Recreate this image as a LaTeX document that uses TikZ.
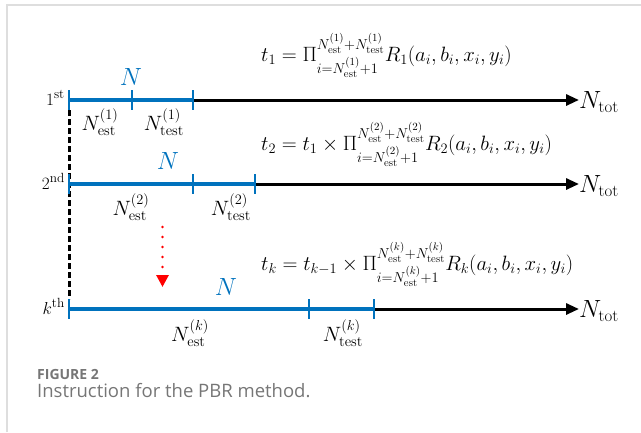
\documentclass[tikz,border=0pt]{standalone}
\usepackage{amsmath}
\usepackage{fontspec}
\newfontfamily\capfont{Open Sans}
\usetikzlibrary{arrows.meta}

\definecolor{mblue}{RGB}{0,114,189}
\definecolor{capgray}{RGB}{118,118,118}
\definecolor{framegray}{RGB}{222,222,222}

\begin{document}
\begin{tikzpicture}[x=1pt,y=-1pt,
    seg/.style={mblue,line width=3.4pt},
    tickmark/.style={mblue,line width=2.6pt},
    axis/.style={line width=3pt,-{Triangle[length=13pt,width=11pt]}},
    lab/.style={inner sep=0pt,font=\fontsize{21}{23}\selectfont},
    rowlab/.style={inner sep=0pt,anchor=base east,font=\fontsize{19}{21}\selectfont},
    nlab/.style={inner sep=0pt,mblue,font=\fontsize{23}{25}\selectfont},
    tot/.style={inner sep=0pt,anchor=west,font=\fontsize{24}{26}\selectfont},
    eq/.style={inner sep=0pt,anchor=base west,font=\fontsize{22}{24}\selectfont}]

\useasboundingbox (0,0) rectangle (641,432);

% page frame
\draw[framegray,line width=1.5pt] (7,432) -- (7,5) -- (641,5);

% Tick points on the three rows
\coordinate (a1) at (69,100);
\coordinate (a2) at (132,100);
\coordinate (a3) at (193,100);
\coordinate (b1) at (69,184);
\coordinate (b2) at (193,184);
\coordinate (b3) at (255,184);
\coordinate (c1) at (69,309);
\coordinate (c2) at (309,309);
\coordinate (c3) at (374,309);

% Row names
\node[rowlab] (r1) at (65,105) {$1^{\text{st}}$};
\node[rowlab] (r2) at (65,189) {$2^{\text{nd}}$};
\node[rowlab] (rk) at (65,314) {$k^{\text{th}}$};

% Ends of the axes
\node[tot] (tot1) at (579,102) {$N_{\text{tot}}$};
\node[tot] (tot2) at (579,186) {$N_{\text{tot}}$};
\node[tot] (totk) at (579,311) {$N_{\text{tot}}$};

% dashed line joining the rows
\draw[line width=3pt,dash pattern=on 6pt off 3pt] ([yshift=-10pt]a1) -- ([yshift=10pt]c1);

% black axes
\draw[axis] (a3) -- (tot1.west |- a3);
\draw[axis] (b3) -- (tot2.west |- b3);
\draw[axis] (c3) -- (totk.west |- c3);

% blue parts and ticks
\draw[seg] (a1) -- (a3);
\draw[seg] (b1) -- (b3);
\draw[seg] (c1) -- (c3);
\foreach \p in {a1,a2,a3,b1,b2,b3,c1,c2,c3}
  \draw[tickmark] ([yshift=10pt]\p) -- ([yshift=-10pt]\p);

% labels of the parts
\node[nlab] (n1) at (131,77) {$N$};
\node[lab] (e1) at (100,122) {$N_{\text{est}}^{(1)}$};
\node[lab] (s1) at (164,122) {$N_{\text{test}}^{(1)}$};
\node[nlab] (n2) at (168,161) {$N$};
\node[lab] (e2) at (131,207) {$N_{\text{est}}^{(2)}$};
\node[lab] (s2) at (231,207) {$N_{\text{test}}^{(2)}$};
\node[nlab] (nk) at (226,287) {$N$};
\node[lab] (ek) at (190,333) {$N_{\text{est}}^{(k)}$};
\node[lab] (sk) at (343,333) {$N_{\text{test}}^{(k)}$};

% red dotted arrow
\coordinate (dtop) at (162.5,227);
\coordinate (dbot) at (162.5,287);
\draw[red,line width=2.8pt,line cap=round,dash pattern=on 0pt off 10pt,
  -{Triangle[length=12pt,width=12pt]}] (dtop) -- (dbot);

% products
\node[eq] (t1) at (261,61)
  {$t_1=\Pi_{i=N_{\text{est}}^{(1)}+1}^{N_{\text{est}}^{(1)}+N_{\text{test}}^{(1)}}R_1(a_i,b_i,x_i,y_i)$};
\node[eq] (t2) at (261,150)
  {$t_2=t_1\times\Pi_{i=N_{\text{est}}^{(2)}+1}^{N_{\text{est}}^{(2)}+N_{\text{test}}^{(2)}}R_2(a_i,b_i,x_i,y_i)$};
\node[eq] (tk) at (261,270)
  {$t_k=t_{k-1}\times\Pi_{i=N_{\text{est}}^{(k)}+1}^{N_{\text{est}}^{(k)}+N_{\text{test}}^{(k)}}R_k(a_i,b_i,x_i,y_i)$};

% caption
\node[anchor=base west,inner sep=0pt,capgray,font=\capfont\bfseries\fontsize{14}{16}\selectfont]
  (fig) at (37,379) {FIGURE 2};
\node[anchor=base west,inner sep=0pt,capgray,font=\capfont\fontsize{18.5}{21}\selectfont]
  (cap) at (37,397) {Instruction for the PBR method.};

\end{tikzpicture}
\end{document}
